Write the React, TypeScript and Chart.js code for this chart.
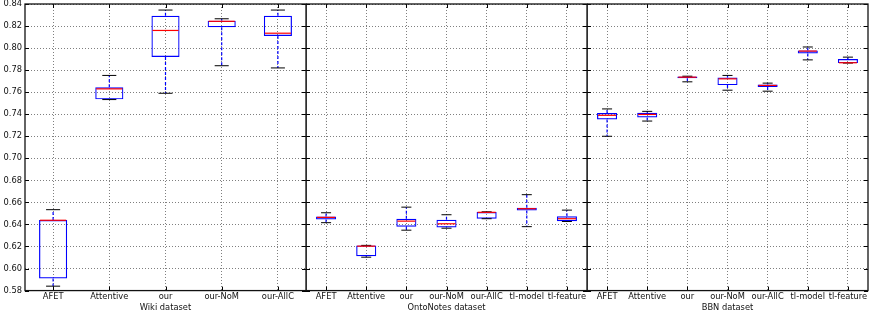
import { useEffect, useRef } from "react";
import { Chart, registerables } from "chart.js";

Chart.register(...registerables);

// Shared y range (accuracy) and tick step
const Y_MIN = 0.58;
const Y_MAX = 0.84;
const Y_STEP = 0.02;

// Wiki dataset
const wikiLabels = ["AFET", "Attentive", "our", "our-NoM", "our-AllC"];
const wikiMin = [0.584, 0.7533, 0.759, 0.784, 0.782];
const wikiQ1 = [0.591, 0.7535, 0.792, 0.819, 0.811];
const wikiMed = [0.6438, 0.763, 0.816, 0.8243, 0.8135];
const wikiQ3 = [0.644, 0.7645, 0.8294, 0.8248, 0.8294];
const wikiMax = [0.6534, 0.7752, 0.8345, 0.8266, 0.8345];

// OntoNotes dataset
const ontoLabels = ["AFET", "Attentive", "our", "our-NoM", "our-AllC", "tl-model", "tl-feature"];
const ontoMin = [0.6416, 0.6103, 0.6348, 0.6366, 0.6452, 0.638, 0.6427];
const ontoQ1 = [0.6445, 0.6112, 0.638, 0.6373, 0.6452, 0.6527, 0.643];
const ontoMed = [0.6464, 0.6203, 0.643, 0.6406, 0.651, 0.6543, 0.6452];
const ontoQ3 = [0.6473, 0.621, 0.6452, 0.6443, 0.6512, 0.6552, 0.6475];
const ontoMax = [0.6506, 0.621, 0.6557, 0.6488, 0.6515, 0.667, 0.653];

// BBN dataset
const bbnLabels = ["AFET", "Attentive", "our", "our-NoM", "our-AllC", "tl-model", "tl-feature"];
const bbnMin = [0.72, 0.7338, 0.7694, 0.7618, 0.7609, 0.7893, 0.7864];
const bbnQ1 = [0.7352, 0.737, 0.7727, 0.7664, 0.7648, 0.7952, 0.7864];
const bbnMed = [0.739, 0.7398, 0.7736, 0.7721, 0.7661, 0.7973, 0.7867];
const bbnQ3 = [0.741, 0.7413, 0.7743, 0.7733, 0.767, 0.7979, 0.79];
const bbnMax = [0.7448, 0.7426, 0.7745, 0.7752, 0.7682, 0.801, 0.7918];

type Stats = {
  title: string;
  labels: string[];
  min: number[];
  q1: number[];
  med: number[];
  q3: number[];
  max: number[];
};

const panels: Stats[] = [
  { title: "Wiki dataset", labels: wikiLabels, min: wikiMin, q1: wikiQ1, med: wikiMed, q3: wikiQ3, max: wikiMax },
  { title: "OntoNotes dataset", labels: ontoLabels, min: ontoMin, q1: ontoQ1, med: ontoMed, q3: ontoQ3, max: ontoMax },
  { title: "BBN dataset", labels: bbnLabels, min: bbnMin, q1: bbnQ1, med: bbnMed, q3: bbnQ3, max: bbnMax },
];

const FONT = { family: "'DejaVu Sans', sans-serif", size: 8.3 };
const TEXT = "#111";
const GRID = "rgba(0,0,0,0.5)";

// Whiskers, caps and median lines for each box
function whiskerPlugin(s: Stats) {
  return {
    id: "whiskers",
    afterDatasetsDraw(chart: any) {
      const { ctx } = chart;
      const x = chart.scales.x;
      const y = chart.scales.y;
      const meta = chart.getDatasetMeta(0);
      const seg = (x1: number, y1: number, x2: number, y2: number) => {
        ctx.beginPath();
        ctx.moveTo(x1, y1);
        ctx.lineTo(x2, y2);
        ctx.stroke();
      };
      ctx.save();
      s.labels.forEach((_, i) => {
        const cx = x.getPixelForValue(i);
        const half = meta.data[i].width / 2;
        const yMin = y.getPixelForValue(s.min[i]);
        const yQ1 = y.getPixelForValue(s.q1[i]);
        const yMed = y.getPixelForValue(s.med[i]);
        const yQ3 = y.getPixelForValue(s.q3[i]);
        const yMax = y.getPixelForValue(s.max[i]);
        ctx.lineWidth = 1.2;
        ctx.strokeStyle = "#0000ff";
        ctx.setLineDash([3, 2]);
        if (yMax < yQ3) seg(cx, yQ3, cx, yMax);
        if (yMin > yQ1) seg(cx, yQ1, cx, yMin);
        ctx.setLineDash([]);
        ctx.strokeStyle = "#000";
        ctx.lineWidth = 1;
        seg(cx - half / 2, yMax, cx + half / 2, yMax);
        seg(cx - half / 2, yMin, cx + half / 2, yMin);
        ctx.strokeStyle = "#ff0000";
        ctx.lineWidth = 1.2;
        seg(cx - half + 1, yMed, cx + half - 1, yMed);
      });
      ctx.restore();
    },
  };
}

// Axes frame with inward tick marks on all four sides
const framePlugin = {
  id: "frame",
  afterDraw(chart: any) {
    const { ctx, chartArea: a } = chart;
    const x = chart.scales.x;
    const y = chart.scales.y;
    ctx.save();
    ctx.strokeStyle = "#000";
    ctx.lineWidth = 1;
    ctx.beginPath();
    y.ticks.forEach((_: any, i: number) => {
      const py = Math.round(y.getPixelForTick(i)) + 0.5;
      ctx.moveTo(a.left, py);
      ctx.lineTo(a.left + 4, py);
      ctx.moveTo(a.right, py);
      ctx.lineTo(a.right - 4, py);
    });
    x.ticks.forEach((_: any, i: number) => {
      const px = Math.round(x.getPixelForTick(i)) + 0.5;
      ctx.moveTo(px, a.top);
      ctx.lineTo(px, a.top + 4);
      ctx.moveTo(px, a.bottom);
      ctx.lineTo(px, a.bottom - 4);
    });
    ctx.stroke();
    ctx.lineWidth = 1.3;
    ctx.strokeStyle = "#111";
    ctx.strokeRect(a.left, a.top, a.right - a.left, a.bottom - a.top);
    ctx.restore();
  },
};

function BoxPanel({ stats, left, width, padRight, showY }: { stats: Stats; left: number; width: number; padRight: number; showY: boolean }) {
  const ref = useRef<HTMLCanvasElement>(null);

  useEffect(() => {
    const chart = new Chart(ref.current as HTMLCanvasElement, {
      type: "bar",
      data: {
        labels: stats.labels,
        datasets: [
          {
            data: stats.labels.map((_, i) => [stats.q1[i], stats.q3[i]]) as any,
            backgroundColor: "rgba(0,0,0,0)",
            borderColor: "#0000ff",
            borderWidth: 1.2,
            borderSkipped: false,
            barPercentage: 0.5,
            categoryPercentage: 1,
          },
        ],
      },
      options: {
        animation: false,
        responsive: false,
        layout: { padding: { top: 4, right: padRight, left: 0, bottom: 0 } },
        plugins: { legend: { display: false }, tooltip: { enabled: false } },
        scales: {
          x: {
            offset: true,
            grid: { offset: false, color: GRID, lineWidth: 1, drawTicks: false },
            border: { display: false, dash: [1, 2] },
            ticks: { font: FONT, color: TEXT, padding: 1, maxRotation: 0, minRotation: 0, autoSkip: false },
            title: { display: true, text: stats.title, font: FONT, color: TEXT, padding: { top: 0, bottom: 1.5 } },
            afterFit: (s: any) => {
              s.paddingLeft = 0;
              s.paddingRight = 0;
            },
          },
          y: {
            min: Y_MIN,
            max: Y_MAX,
            grid: { color: GRID, lineWidth: 1, drawTicks: false },
            border: { display: false, dash: [1, 2] },
            ticks: {
              display: showY,
              stepSize: Y_STEP,
              font: FONT,
              color: TEXT,
              padding: 3,
              callback: (v: any) => Number(v).toFixed(2),
            },
            afterFit: (s: any) => {
              s.width = showY ? 25 : 0;
              s.paddingTop = 0;
              s.paddingBottom = 0;
            },
          },
        },
      },
      plugins: [whiskerPlugin(stats), framePlugin],
    });
    return () => chart.destroy();
  }, []);

  return (
    <canvas
      ref={ref}
      width={width}
      height={314}
      style={{ position: "absolute", left, top: 0, width, height: 314 }}
    />
  );
}

export default function App() {
  return (
    <div style={{ position: "fixed", left: 0, top: 0, width: 873, height: 314, background: "#fff" }}>
      <BoxPanel stats={panels[0]} left={0} width={310} padRight={4} showY={true} />
      <BoxPanel stats={panels[1]} left={306} width={285} padRight={4} showY={false} />
      <BoxPanel stats={panels[2]} left={587} width={286} padRight={5} showY={false} />
    </div>
  );
}
